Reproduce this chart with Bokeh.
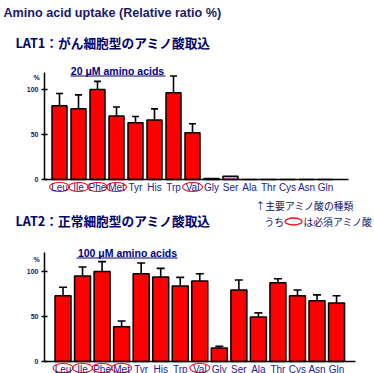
from bokeh.plotting import figure
from bokeh.models import Range1d, FixedTicker, LinearAxis
from bokeh.core.properties import value
from bokeh.embed import file_html
from bokeh.resources import INLINE

# ---------------- data ----------------
categories = ["Leu", "Ile", "Phe", "Met", "Tyr", "His", "Trp", "Val",
              "Gly", "Ser", "Ala", "Thr", "Cys", "Asn", "Gln"]
essential = ["Leu", "Ile", "Phe", "Met", "Val"]
y_ticks = [0, 50, 100]
unit_label = "%"

lat1_uptake = [82, 78.5, 100, 70.5, 63, 66, 96.5, 52, 1, 3.5, 0, 0, 0, 0, 0]
lat1_error = [13.5, 15.5, 9, 10, 7, 12.5, 18.5, 10, 0, 0, 0, 0, 0, 0, 0]

lat2_uptake = [73, 95, 100, 38.5, 97.5, 94, 84, 89.5, 15, 79.5, 49.5, 87.5, 73, 67.5, 65]
lat2_error = [9.5, 10, 11, 6.5, 12, 9.5, 9.5, 8, 2, 11, 4.5, 4.5, 6.5, 6.5, 8]

title_text = "Amino acid uptake (Relative  ratio %)"
lat1_heading = "LAT1：がん細胞型のアミノ酸取込"
lat2_heading = "LAT2：正常細胞型のアミノ酸取込"
lat1_sub = "20 μM amino acids"
lat2_sub = "100 μM amino acids"
note1 = "↑主要アミノ酸の種類"
note2a = "うち"
note2b = "は必須アミノ酸"

# ---------------- style / layout ----------------
NAVY = "#14146e"
HEAD = "#000066"
LBL = "#1c1c8c"
NOTE = "#101060"
ERED = "#ee1111"
LATIN = "Liberation Sans"
CJK = "Noto Sans CJK JP"
W, H = 374, 373

# page canvas: default ranges are pixel positions (y downward)
p = figure(width=W, height=H, x_range=Range1d(0, W), y_range=Range1d(H, 0),
           x_axis_location=None, y_axis_location=None, min_border=0,
           output_backend="svg", toolbar_location=None)
p.outline_line_color = None
p.background_fill_color = "white"
p.border_fill_color = "white"
for gr in p.grid:
    gr.visible = False


def put_text(x, y, text, font, size, color, bold=True, align="left"):
    p.text(x=[x], y=[y], text=[text], text_font=value(font), text_font_size=value(size),
           text_font_style="bold" if bold else "normal", text_color=color,
           text_baseline="middle", text_align=align)


G1 = dict(name="c1", left=44, ppx=19.0, lead=15.0, zero=179, ppy=0.9,
          axis_top=72, axis_right=348, bw=15, cap=3.5, lab_y=186.5,
          sub=lat1_sub, sub_x=117, sub_y=70, ul=(70, 165, 75.5), pct=(36, 77))
G2 = dict(name="c2", left=44, ppx=19.54, lead=18.5, zero=361, ppy=0.9,
          axis_top=252, axis_right=355, bw=16, cap=4, lab_y=367.5,
          sub=lat2_sub, sub_x=127, sub_y=252, ul=(76, 177, 257.5), pct=(36, 259))


def make_chart(g, values, errors, colors):
    n = g["name"]

    def dx(px):
        return -g["lead"] / g["ppx"] + (px - g["left"]) / g["ppx"]

    def dy(py):
        return (g["zero"] - py) / g["ppy"]

    p.extra_x_ranges[n] = Range1d(dx(0), dx(W))
    p.extra_y_ranges[n] = Range1d(dy(H), dy(0))
    kw = dict(x_range_name=n, y_range_name=n)

    xs = list(range(len(categories)))
    p.vbar(x=xs, top=values, bottom=0, width=g["bw"] / g["ppx"], fill_color=colors,
           line_color="black", line_width=1.5, **kw)
    ex = [i for i in xs if errors[i] > 0]
    y0 = [values[i] for i in ex]
    y1 = [values[i] + errors[i] for i in ex]
    c = g["cap"] / g["ppx"]
    p.segment(x0=ex, y0=y0, x1=ex, y1=y1, line_color="black", line_width=1.6, **kw)
    p.segment(x0=[i - c for i in ex], y0=y1, x1=[i + c for i in ex], y1=y1,
              line_color="black", line_width=1.6, **kw)

    # x axis drawn at value 0
    xa = LinearAxis(x_range_name=n, y_range_name=n, fixed_location=0,
                    bounds=(dx(g["left"]), dx(g["axis_right"])),
                    ticker=FixedTicker(ticks=xs),
                    major_label_overrides={i: cat for i, cat in zip(xs, categories)})
    xa.major_tick_in = 0
    xa.major_tick_out = 0
    xa.minor_tick_line_color = None
    xa.axis_line_width = 1.5
    xa.major_label_standoff = 2
    xa.major_label_text_font = LATIN
    xa.major_label_text_font_size = "10px"
    xa.major_label_text_color = LBL
    p.add_layout(xa, "below")

    # y axis at the left edge of the chart
    ya = LinearAxis(y_range_name=n, fixed_location=g["left"],
                    bounds=(0, dy(g["axis_top"])), ticker=FixedTicker(ticks=y_ticks))
    ya.major_tick_in = 3
    ya.major_tick_out = 3
    ya.minor_tick_line_color = None
    ya.axis_line_width = 1.5
    ya.major_tick_line_width = 1.5
    ya.major_label_standoff = 3
    ya.major_label_text_font = LATIN
    ya.major_label_text_font_size = "7px"
    ya.major_label_text_font_style = "bold"
    ya.major_label_text_color = NAVY
    p.add_layout(ya, "left")

    # red ellipses around the essential amino acids
    ess = [categories.index(e) for e in essential]
    ly = dy(g["lab_y"])
    p.ellipse(x=ess, y=[ly] * len(ess), width=20, height=9, width_units="screen",
              height_units="screen", fill_color=None, line_color=ERED, line_width=1.1, **kw)

    # subtitle, underline and unit
    put_text(g["sub_x"], g["sub_y"], g["sub"], LATIN, "10.5px", "#000080", align="center")
    u0, u1, uy = g["ul"]
    p.segment(x0=[u0], y0=[uy], x1=[u1], y1=[uy], line_color="#000080", line_width=1.2)
    put_text(g["pct"][0], g["pct"][1], unit_label, LATIN, "7px", NAVY, align="center")


colors1 = ["#ee88ee" if c == "Ser" else "#ff0000" for c in categories]
colors2 = ["#ff0000" for c in categories]

put_text(3, 12, title_text, LATIN, "12.6px", "#1a1a66")
put_text(15, 42, lat1_heading, CJK, "12.7px", HEAD)
make_chart(G1, lat1_uptake, lat1_error, colors1)

put_text(255, 205, note1, CJK, "9.8px", NOTE, bold=False)
put_text(264, 221, note2a, CJK, "9.8px", NOTE, bold=False)
p.ellipse(x=[293], y=[221], width=17, height=7, fill_color="white",
          line_color=ERED, line_width=1.3)
put_text(303, 221, note2b, CJK, "9.8px", NOTE, bold=False)
put_text(15, 220, lat2_heading, CJK, "12.7px", HEAD)
make_chart(G2, lat2_uptake, lat2_error, colors2)

open("out.html", "w").write(file_html(p, INLINE))
